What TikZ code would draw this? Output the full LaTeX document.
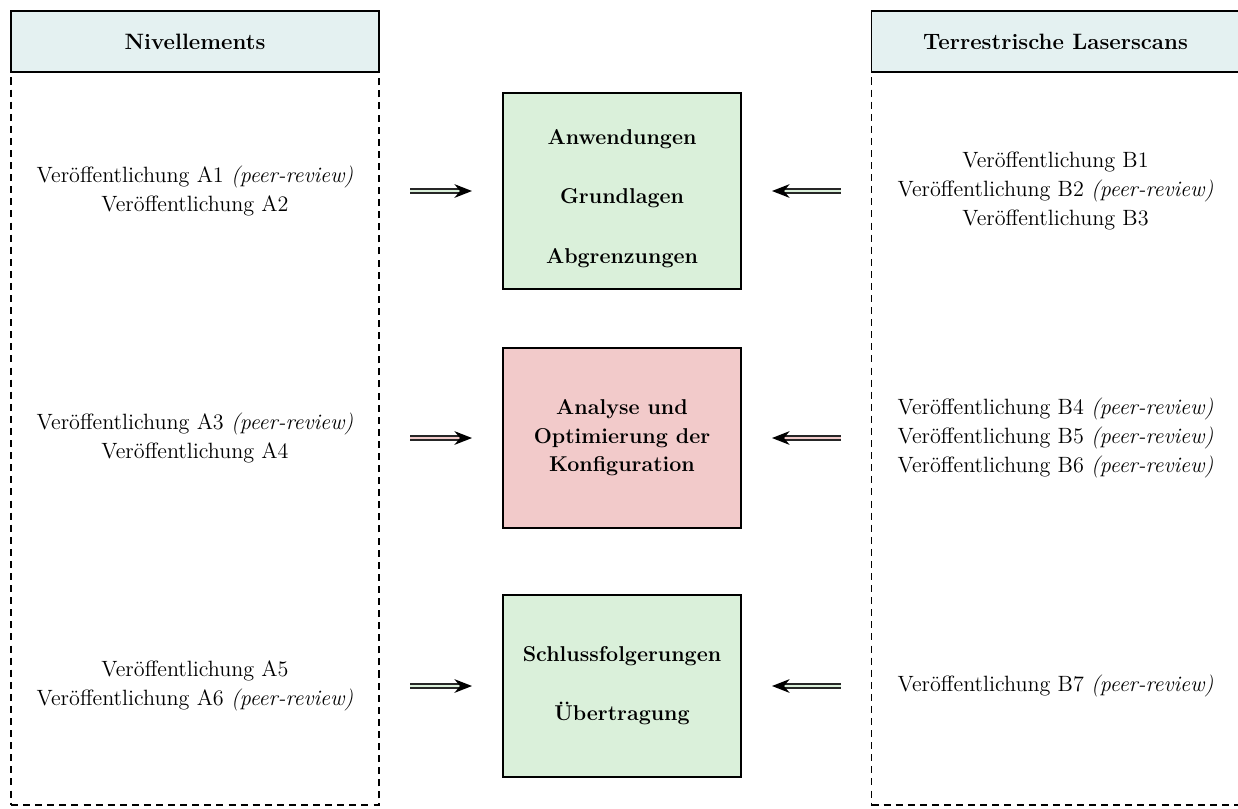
\documentclass[tikz,border=0pt]{standalone}
\usepackage{tikz}
\usetikzlibrary{arrows.meta, positioning}
\definecolor{kopfblau}{HTML}{E4F1F1}
\definecolor{hellgruen}{HTML}{DAF0DA}
\definecolor{hellrot}{HTML}{F2CACA}
\tikzset{
    spalte/.style={draw, line width=1pt, dash pattern=on 3.6pt off 2.6pt, outer sep=0pt, minimum width=188.8pt, minimum height=376pt},
    kopf/.style={draw, line width=1pt, fill=kopfblau, outer sep=0pt, minimum width=188.8pt, minimum height=31.3pt, font=\bfseries\fontsize{11.4}{13}\selectfont},
    thema/.style={draw, line width=1pt, fill=#1, outer sep=0pt, minimum width=122.1pt, align=center, font=\bfseries\fontsize{11}{14.6}\selectfont},
    liste/.style={align=center, font=\fontsize{11.35}{15}\selectfont},
    pfeil/.style={draw=black!85, double=#1, double distance=1.4pt, line width=0.75pt, shorten <=15.9pt, shorten >=15.9pt,
        -{Stealth[length=9pt, width=7pt, inset=2.8pt, black]}}
}
\begin{document}
\begin{tikzpicture}[x=0.513pt, y=-0.513pt]
    \useasboundingbox (0,0) rectangle (1238,808);
    % Spalten
    \node[spalte] (colA) at (195,438.5) {};
    \node[spalte] (colB) at (1055.5,438.5) {};
    \node[kopf, anchor=south] (kopfA) at (colA.north) {Nivellements};
    \node[kopf, anchor=south] (kopfB) at (colB.north) {Terrestrische Laserscans};

    % Themen in der Mitte
    \node[thema=hellgruen, minimum height=100.5pt] (box1) at (622,191)
        {\rule{0pt}{15.5pt}Anwendungen\\[15.8pt] Grundlagen\\[15.8pt] Abgrenzungen};
    \node[thema=hellrot, minimum height=92.3pt] (box2) at (622,438)
        {Analyse und\\ Optimierung der\\ Konfiguration};
    \node[thema=hellgruen, minimum height=93.4pt] (box3) at (622,686)
        {Schlussfolgerungen\\[15.8pt] \"Ubertragung};

    % Veroeffentlichungen
    \node[liste] (pubA1) at (colA |- box1) {Ver\"offentlichung A1 \textit{(peer-review)}\\ Ver\"offentlichung A2};
    \node[liste] (pubA2) at (colA |- box2) {Ver\"offentlichung A3 \textit{(peer-review)}\\ Ver\"offentlichung A4};
    \node[liste] (pubA3) at (colA |- box3) {Ver\"offentlichung A5\\ Ver\"offentlichung A6 \textit{(peer-review)}};
    \node[liste] (pubB1) at (colB |- box1) {Ver\"offentlichung B1\\ Ver\"offentlichung B2 \textit{(peer-review)}\\ Ver\"offentlichung B3};
    \node[liste] (pubB2) at (colB |- box2) {Ver\"offentlichung B4 \textit{(peer-review)}\\ Ver\"offentlichung B5 \textit{(peer-review)}\\ Ver\"offentlichung B6 \textit{(peer-review)}};
    \node[liste] (pubB3) at (colB |- box3) {Ver\"offentlichung B7 \textit{(peer-review)}};

    % Pfeile
    \draw[pfeil=hellgruen] (colA.east |- box1) -- (box1.west);
    \draw[pfeil=hellrot] (colA.east |- box2) -- (box2.west);
    \draw[pfeil=hellgruen] (colA.east |- box3) -- (box3.west);
    \draw[pfeil=hellgruen] (colB.west |- box1) -- (box1.east);
    \draw[pfeil=hellrot] (colB.west |- box2) -- (box2.east);
    \draw[pfeil=hellgruen] (colB.west |- box3) -- (box3.east);
\end{tikzpicture}
\end{document}
